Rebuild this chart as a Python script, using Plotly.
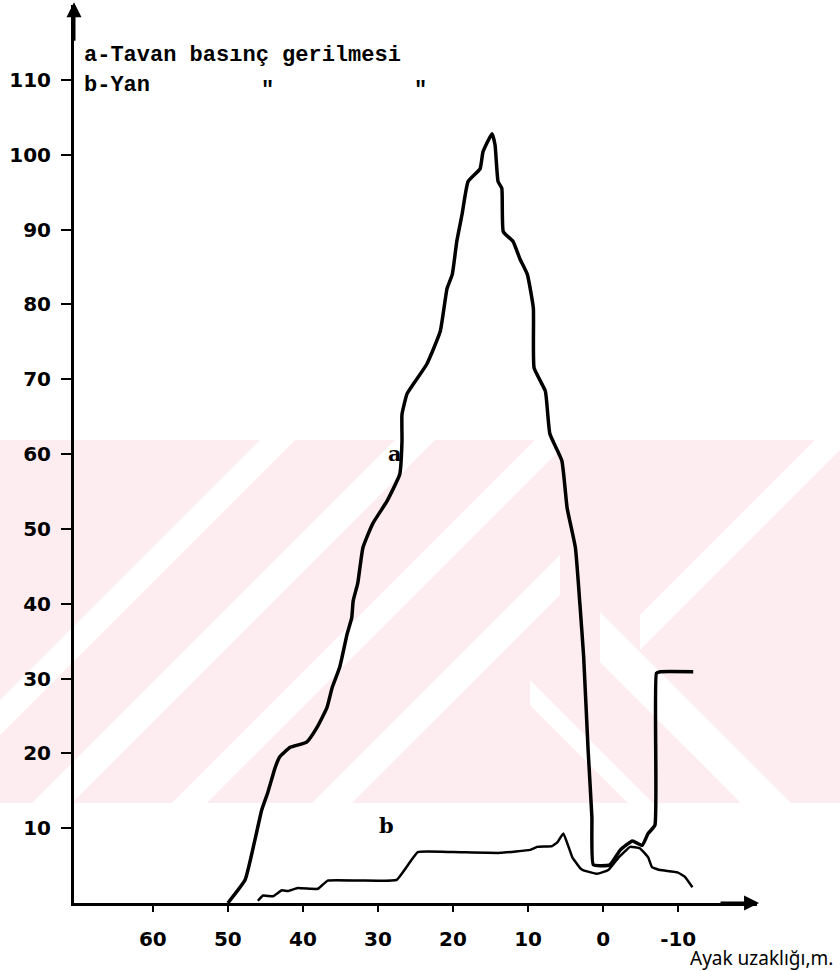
import plotly.graph_objects as go

# distance to face (m) and stress values
a_dist = [50.0, 47.7, 46.4, 45.5, 44.7, 43.7, 43.1, 41.7, 39.5, 38.1, 36.8, 36.1, 35.1,
          34.1, 33.5, 33.3, 32.7, 32.0, 30.7, 28.8, 27.1, 26.8, 26.8, 26.1, 23.5, 21.7,
          20.8, 20.1, 19.5, 18.8, 18.0, 16.4, 16.0, 14.8, 14.4, 14.0, 13.5, 13.3, 12.0,
          11.1, 10.1, 9.3, 9.2, 7.7, 7.1, 5.5, 4.8, 3.7, 3.1, 2.6, 2.0, 1.5, 1.3,
          -0.9, -2.3, -3.9, -5.2, -6.0, -6.9, -7.1, -7.6, -12.0]
a_val = [0.0, 3.1, 8.4, 12.4, 14.7, 18.1, 19.5, 20.8, 21.5, 23.5, 26.1, 28.8, 31.5,
         36.0, 38.1, 40.4, 42.7, 47.5, 50.7, 53.7, 57.3, 61.7, 65.3, 68.1, 72.0, 76.4,
         82.1, 84.0, 88.4, 92.0, 96.4, 98.1, 100.4, 102.8, 101.3, 96.4, 95.5, 89.7, 88.4,
         86.1, 84.0, 79.5, 71.5, 68.4, 62.7, 59.1, 52.8, 47.5, 40.0, 33.0, 20.4, 11.5, 5.1,
         5.1, 7.1, 8.3, 7.7, 9.3, 10.4, 30.7, 30.9, 30.9]

b_dist = [46.0, 45.3, 44.0, 42.8, 42.0, 40.7, 39.0, 38.0, 36.7, 32.4, 27.5, 24.7, 20.0,
          13.7, 9.7, 8.8, 6.8, 6.1, 5.3, 4.1, 3.1, 2.7, 0.8, -0.7, -2.0, -3.6, -4.9,
          -6.0, -6.5, -7.6, -9.9, -10.9, -11.9]
b_val = [0.3, 1.0, 0.9, 1.7, 1.6, 2.0, 1.9, 1.9, 3.0, 3.0, 3.1, 6.8, 6.8,
         6.7, 7.1, 7.5, 7.6, 8.1, 9.3, 6.1, 4.7, 4.4, 3.9, 4.4, 6.0, 7.5, 7.3,
         6.1, 4.8, 4.4, 4.1, 3.5, 2.1]

x_ticks = [60, 50, 40, 30, 20, 10, 0, -10]
y_ticks = [10, 20, 30, 40, 50, 60, 70, 80, 90, 100, 110]

# plot area in page pixels (used for the faint scan watermark only)
L, R, T, B = 74, 757, 5, 903


def to_paper(px, py):
    return (px - L) / (R - L), (B - py) / (B - T)


def clip(poly, inside, cross):
    out = []
    for i in range(len(poly)):
        p, q = poly[i - 1], poly[i]
        if inside(q):
            if not inside(p):
                out.append(cross(p, q))
            out.append(q)
        elif inside(p):
            out.append(cross(p, q))
    return out


def stripe(kind, c1, c2, x0, x1, y0=440, y1=803):
    poly = [(x0, y0), (x1, y0), (x1, y1), (x0, y1)]
    f = (lambda p: p[0] + p[1]) if kind == '/' else (lambda p: p[1] - p[0])
    for c, sign in ((c1, 1), (c2, -1)):
        def inside(p, c=c, sign=sign):
            return sign * (f(p) - c) >= 0

        def cross(p, q, c=c):
            t = (c - f(p)) / (f(q) - f(p))
            return (p[0] + t * (q[0] - p[0]), p[1] + t * (q[1] - p[1]))
        poly = clip(poly, inside, cross)
    if not poly:
        return None
    pts = [to_paper(*p) for p in poly]
    return 'M ' + ' L '.join(f'{x:.4f},{y:.4f}' for x, y in pts) + ' Z'


fig = go.Figure()

x0p, y0p = to_paper(0, 803)
x1p, y1p = to_paper(840, 440)
fig.add_shape(type='rect', xref='paper', yref='paper', x0=x0p, x1=x1p, y0=y0p, y1=y1p,
              fillcolor='#fdecf0', line_width=0, layer='below')
for kind, c1, c2, xa, xb in [('/', 700, 735, 0, 500), ('/', 835, 875, 0, 560),
                             ('/', 975, 1010, 0, 560), ('/', 1115, 1155, 0, 560),
                             ('/', 1255, 1290, 640, 840), ('\\', 12, 62, 600, 840),
                             ('\\', 150, 175, 530, 700)]:
    path = stripe(kind, c1, c2, xa, xb)
    if path:
        fig.add_shape(type='path', xref='paper', yref='paper', path=path,
                      fillcolor='white', line_width=0, layer='below')

fig.add_trace(go.Scatter(x=a_dist, y=a_val, mode='lines', name='a',
                         line=dict(color='black', width=3.5, shape='spline', smoothing=0.4)))
fig.add_trace(go.Scatter(x=b_dist, y=b_val, mode='lines', name='b',
                         line=dict(color='black', width=2.5, shape='spline', smoothing=0.3)))

tick_font = dict(family='DejaVu Sans', size=20, color='black', weight='bold')
fig.update_xaxes(range=[70.5, -20.5], tickvals=x_ticks, ticktext=[str(t) for t in x_ticks],
                 showgrid=False, zeroline=False, showline=True, linewidth=3, linecolor='black',
                 ticks='outside', ticklen=6, tickwidth=2, tickcolor='black', tickfont=tick_font,
                 ticklabelstandoff=10)
fig.update_yaxes(range=[0, 120], tickvals=y_ticks, ticktext=[str(t) for t in y_ticks],
                 showgrid=False, zeroline=False, showline=True, linewidth=3, linecolor='black',
                 ticks='outside', ticklen=10, tickwidth=2, tickcolor='black', tickfont=tick_font,
                 ticklabelstandoff=6)

mono = dict(family='Liberation Mono', size=22, color='black', weight='bold')
serif = dict(family='DejaVu Serif', size=21, color='black', weight='bold')
notes = [
    dict(x=0.012, y=113.3, xref='paper', text='a-Tavan basınç gerilmesi', xanchor='left', font=mono),
    dict(x=0.012, y=109.3, xref='paper', text='b-Yan', xanchor='left', font=mono),
    dict(x=44.7, y=108.6, text='"', font=mono),
    dict(x=24.4, y=108.6, text='"', font=mono),
    dict(x=27.7, y=60.1, text='a', font=serif),
    dict(x=28.9, y=10.4, text='b', font=serif),
    dict(x=1.114, y=-0.0612, xref='paper', yref='paper', text='Ayak uzaklığı,m.',
         xanchor='right', yanchor='middle', font=dict(family='Noto Sans', size=19, color='black')),
]
for n in notes:
    fig.add_annotation(showarrow=False, **n)

# axis arrows
fig.add_annotation(x=0, y=1.003, xref='paper', yref='paper', ax=0, ay=40, text='',
                   showarrow=True, arrowhead=2, arrowsize=1, arrowwidth=3, arrowcolor='black')
fig.add_annotation(x=1.003, y=0, xref='paper', yref='paper', ax=-40, ay=0, text='',
                   showarrow=True, arrowhead=2, arrowsize=1, arrowwidth=3, arrowcolor='black')

fig.update_layout(width=840, height=971, showlegend=False,
                  margin=dict(l=L, r=840 - R, t=T, b=971 - B),
                  plot_bgcolor='rgba(0,0,0,0)', paper_bgcolor='white')

fig.write_html("out.html", config={'displayModeBar': False},
               post_script="document.body.style.margin='0';")
